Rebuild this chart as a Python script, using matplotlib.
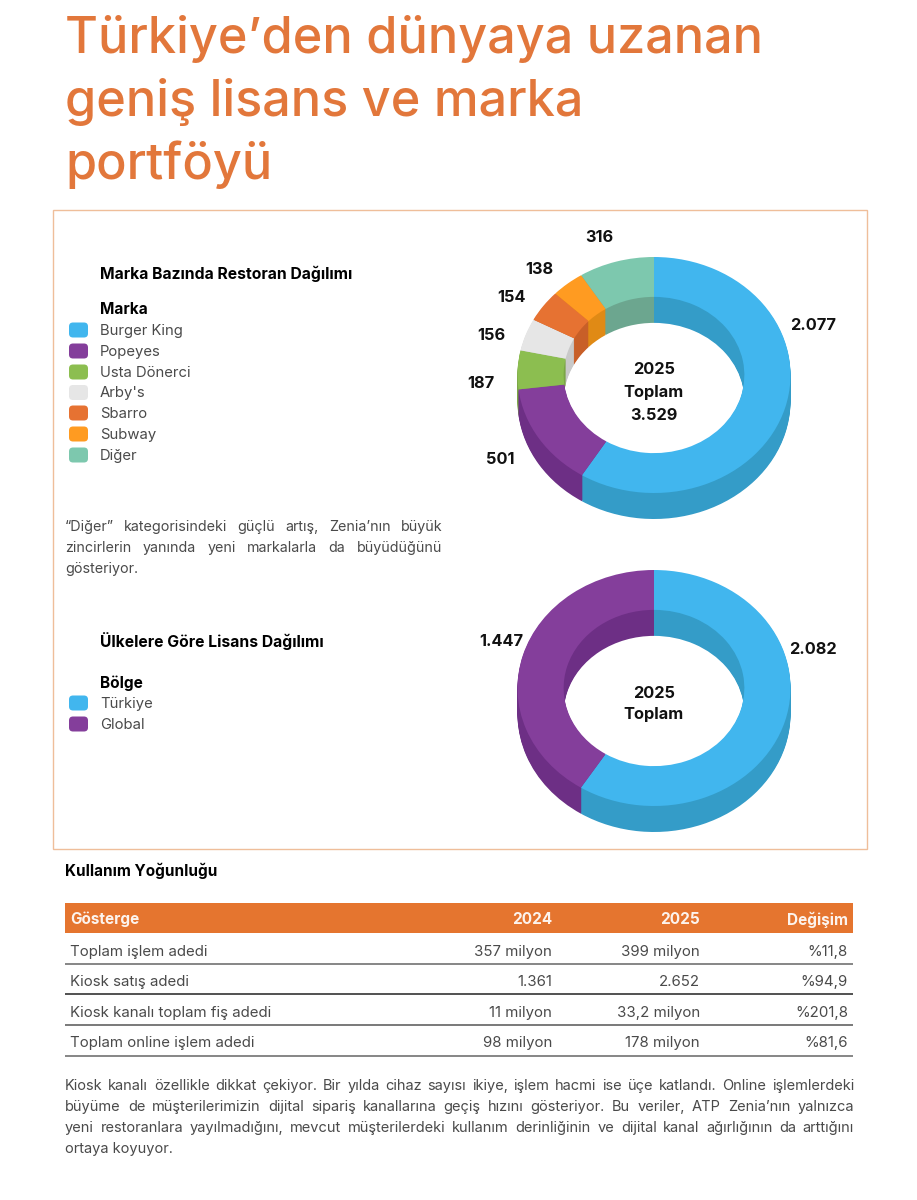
import matplotlib
matplotlib.use('Agg')
import matplotlib.pyplot as plt
from matplotlib.patches import FancyBboxPatch, Rectangle

plt.rcParams['font.family'] = ['Inter', 'DejaVu Sans']

# data
title_lines = ['Türkiye’den dünyaya uzanan', 'geniş lisans ve marka', 'portföyü']
brands = ['Burger King', 'Popeyes', 'Usta Dönerci', "Arby's", 'Sbarro', 'Subway', 'Diğer']
brand_values = [2077, 501, 187, 156, 154, 138, 316]
brand_total = 3529
brand_colors = ['#41B6EE', '#843E9B', '#8CBE50', '#E6E6E6', '#E67232', '#FF9B21', '#7DC8AE']
brand_dark = ['#349CC8', '#6D2F85', '#7BA646', '#C9C9C9', '#C85F28', '#E08A15', '#6CA68F']

regions = ['Türkiye', 'Global']
region_values = [2082, 1447]
region_colors = ['#41B6EE', '#843E9B']
region_dark = ['#349CC8', '#6D2F85']

table_header = ['Gösterge', '2024', '2025', 'Değişim']
table_names = ['Toplam işlem adedi', 'Kiosk satış adedi', 'Kiosk kanalı toplam fiş adedi', 'Toplam online işlem adedi']
table_2024 = ['357 milyon', '1.361', '11 milyon', '98 milyon']
table_2025 = ['399 milyon', '2.652', '33,2 milyon', '178 milyon']
table_change = ['%11,8', '%94,9', '%201,8', '%81,6']

note_lines = ['“Diğer” kategorisindeki güçlü artış, Zenia’nın büyük',
              'zincirlerin yanında yeni markalarla da büyüdüğünü',
              'gösteriyor.']
body_lines = ['Kiosk kanalı özellikle dikkat çekiyor. Bir yılda cihaz sayısı ikiye, işlem hacmi ise üçe katlandı. Online işlemlerdeki',
              'büyüme de müşterilerimizin dijital sipariş kanallarına geçiş hızını gösteriyor. Bu veriler, ATP Zenia’nın yalnızca',
              'yeni restoranlara yayılmadığını, mevcut müşterilerdeki kullanım derinliğinin ve dijital kanal ağırlığının da arttığını',
              'ortaya koyuyor.']

ORANGE = '#E5752F'
TXT = '#4A4A4A'
W, H = 917, 1200


def fmt(v):
    return f'{v:,}'.replace(',', '.')


fig = plt.figure(figsize=(W / 100, H / 100), dpi=100, facecolor='white')
bg = fig.add_axes([0, 0, 1, 1])
bg.set_xlim(0, W)
bg.set_ylim(H, 0)
bg.axis('off')


def justify(line, x0, x1, y, size=10.6):
    # word by word, pdf style justified line
    words = line.split(' ')
    r = fig.canvas.get_renderer()
    items = [bg.text(0, y, w, fontsize=size, color=TXT, va='center') for w in words]
    widths = [t.get_window_extent(r).width for t in items]
    gap = (x1 - x0 - sum(widths)) / (len(words) - 1)
    x = x0
    for t, w in zip(items, widths):
        t.set_x(x)
        x += w + gap


def donut(cy, values, colors, dark):
    # cx, rx, ry and depth in pixels, squashed pies stacked to fake the 3d wall
    cx, rx, ry, depth = 654, 136.5, 118, 26
    top, bottom = 1.15, -1.45
    ax = fig.add_axes([(cx - 1.2 * rx) / W, 1 - (cy - bottom * ry) / H,
                       2.4 * rx / W, (top - bottom) * ry / H])
    ax.patch.set_alpha(0)
    for d in range(depth, 0, -1):
        ax.pie(values, colors=dark, startangle=90, counterclock=False, radius=1,
               center=(0, -d / ry), wedgeprops=dict(width=0.338, linewidth=0))
    ax.pie(values, colors=colors, startangle=90, counterclock=False, radius=1,
           center=(0, 0), wedgeprops=dict(width=0.338, linewidth=0))
    ax.set_aspect('auto')
    ax.set_xlim(-1.2, 1.2)
    ax.set_ylim(bottom, top)
    ax.axis('off')


def legend(title, title_y, head, head_y, names, colors, ys):
    bg.text(100, title_y + 1, title, fontsize=11.3, fontweight='bold', color='black', va='center')
    bg.text(100, head_y + 1, head, fontsize=11.1, fontweight='bold', color='black', va='center')
    for name, c, y in zip(names, colors, ys):
        bg.add_patch(FancyBboxPatch((71, y - 5.5), 15, 11, boxstyle='round,pad=2,rounding_size=4',
                                    fc=c, ec='none'))
        bg.text(100, y + 1, name, fontsize=10.7, color=TXT, va='center')


# title
for line, y in zip(title_lines, [39, 102, 165]):
    bg.text(65, y, line, fontsize=36.3, color='#E2773B', va='center', fontweight='medium')

# frame
bg.add_patch(Rectangle((53, 210), 814, 639, fc='none', ec='#EFBE9A', lw=1))

# legends and note
legend('Marka Bazında Restoran Dağılımı', 273, 'Marka', 309, brands, brand_colors,
       [330, 351, 372, 392.5, 413, 434, 455])
legend('Ülkelere Göre Lisans Dağılımı', 640, 'Bölge', 682, regions, region_colors, [703, 724])
for i, (line, y) in enumerate(zip(note_lines, [526, 547, 568])):
    if i < 2:
        justify(line, 65, 442, y + 1, size=10.3)
    else:
        bg.text(65, y + 1, line, fontsize=10.3, color=TXT, va='center')

# donuts
donut(375, brand_values, brand_colors, brand_dark)
donut(688, region_values, region_colors, region_dark)

# donut labels, drawn on a top layer
fg = fig.add_axes([0, 0, 1, 1])
fg.set_xlim(0, W)
fg.set_ylim(H, 0)
fg.axis('off')
fg.patch.set_alpha(0)
brand_label_pos = [(813, 325), (500, 459), (481, 384), (491, 336), (511, 297), (539, 269), (599, 238)]
for v, (x, y) in zip(brand_values, brand_label_pos):
    fg.text(x, y, fmt(v), fontsize=11.8, fontweight='bold', color='#111111', ha='center', va='center')
region_label_pos = [(813, 649), (501, 641)]
for v, (x, y) in zip(region_values, region_label_pos):
    fg.text(x, y, fmt(v), fontsize=11.8, fontweight='bold', color='#111111', ha='center', va='center')
for txt, y in zip(['2025', 'Toplam', fmt(brand_total)], [369, 392, 415]):
    fg.text(654, y, txt, fontsize=11.8, fontweight='bold', color='#111111', ha='center', va='center')
for txt, y in zip(['2025', 'Toplam'], [693, 715]):
    fg.text(654, y, txt, fontsize=11.8, fontweight='bold', color='#111111', ha='center', va='center')

# table
bg.text(65, 871, 'Kullanım Yoğunluğu', fontsize=11, fontweight='bold', color='black', va='center')
bg.add_patch(Rectangle((65, 903), 788, 30, fc=ORANGE, ec='none'))
col_x = [70, 552, 700, 848]
for i, (h, x) in enumerate(zip(table_header, col_x)):
    bg.text(x, 919.5, h, fontsize=11, fontweight='bold', color='white', va='center',
            ha='left' if i == 0 else 'right', alpha=0.92)
row_y = [952, 982, 1013, 1043]
line_y = [964, 994, 1025, 1056]
line_c = ['#666666', '#222222', '#555555', '#666666']
for i, y in enumerate(row_y):
    bg.text(col_x[0], y, table_names[i], fontsize=10.8, color=TXT, va='center')
    bg.text(col_x[1], y, table_2024[i], fontsize=10.8, color=TXT, va='center', ha='right')
    bg.text(col_x[2], y, table_2025[i], fontsize=10.8, color=TXT, va='center', ha='right')
    bg.text(col_x[3], y, table_change[i], fontsize=10.8, color=TXT, va='center', ha='right')
    bg.plot([65, 853], [line_y[i], line_y[i]], color=line_c[i], lw=1.1, solid_capstyle='butt')

# bottom paragraph
for i, (line, y) in enumerate(zip(body_lines, [1086, 1107, 1128, 1149])):
    if i < 3:
        justify(line, 65, 854, y, size=10.5)
    else:
        bg.text(65, y, line, fontsize=10.5, color=TXT, va='center')

fig.savefig('out.png', dpi=100)
